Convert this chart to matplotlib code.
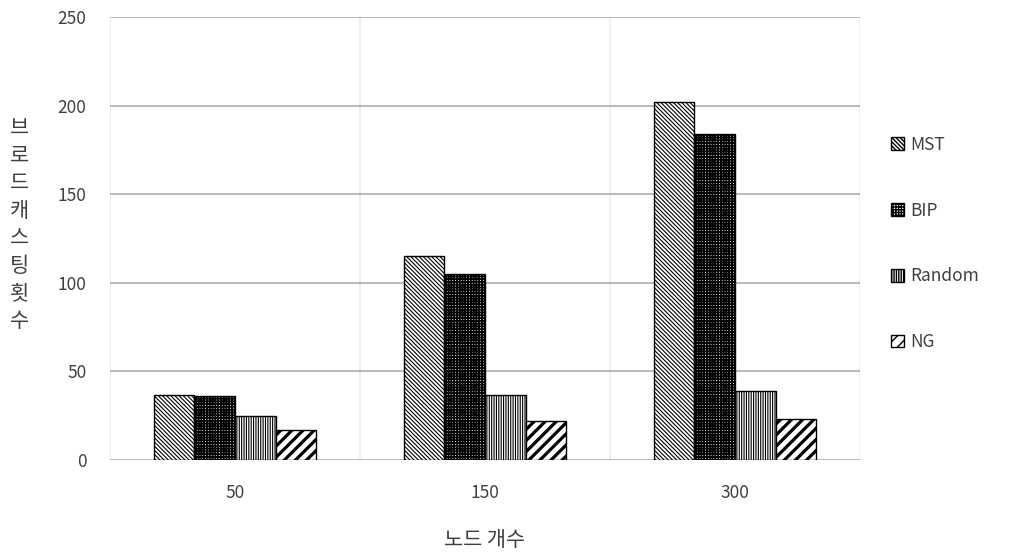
import matplotlib
matplotlib.use("Agg")
import matplotlib.pyplot as plt
import numpy as np

plt.rcParams['font.family'] = ['Noto Sans CJK KR', 'DejaVu Sans']

categories = ["50", "150", "300"]
series_names = ["MST", "BIP", "Random", "NG"]
mst = [37, 115, 202]
bip = [36, 105, 184]
rnd = [25, 37, 39]
ng = [17, 22, 23]
values = [mst, bip, rnd, ng]
y_ticks = [0, 50, 100, 150, 200, 250]

hatches = ['\\\\\\\\\\\\\\\\', '++++++', '|||||||', '///']
hatch_lw = [0.8, 1.3, 0.8, 2.3]

fig = plt.figure(figsize=(10.13, 5.57), dpi=100)
ax = fig.add_axes([0.1086, 0.174, 0.7404, 0.7955])

x = np.arange(len(categories))
bw = 0.1625
for i, (name, vals) in enumerate(zip(series_names, values)):
    offs = (i - 1.5) * bw
    bars = ax.bar(x + offs, vals, width=bw, color='white', edgecolor='black',
                  linewidth=1.0, hatch=hatches[i], label=name, zorder=3)
    for b in bars:
        try:
            b.set_hatch_linewidth(hatch_lw[i])
        except Exception:
            pass

ax.set_xlim(-0.5, len(categories) - 0.5)
ax.set_ylim(0, 250)
ax.set_yticks(y_ticks)
ax.set_xticks(x)
ax.set_xticklabels(categories)
ax.tick_params(axis='both', length=0, labelsize=12.5, colors='#404040')
ax.tick_params(axis='x', pad=17)
ax.tick_params(axis='y', pad=17)

for yv in y_ticks:
    ax.axhline(yv, color='#b4b4b4', linewidth=1.3, zorder=1)
for xv in np.arange(-0.5, len(categories), 1.0):
    ax.axvline(xv, color='#eeeeee', linewidth=1.3, zorder=0)
for s in ax.spines.values():
    s.set_visible(False)

ax.set_xlabel("노드 개수", fontsize=15, color='#404040', labelpad=20)

ylab = "\n".join(list("브로드캐스팅횟수"))
fig.text(0.019, 0.597, ylab, fontsize=15, color='#404040', ha='center', va='center',
         linespacing=1.33)

leg = ax.legend(loc='upper left', bbox_to_anchor=(1.02, 0.767), frameon=False,
                fontsize=12.5, handlelength=0.75, handleheight=0.75, handletextpad=0.35,
                labelspacing=2.75, labelcolor='#404040')
for h in leg.legend_handles:
    try:
        h.set_linewidth(1.0)
    except Exception:
        pass

fig.savefig("out.png", dpi=100, facecolor='white')
